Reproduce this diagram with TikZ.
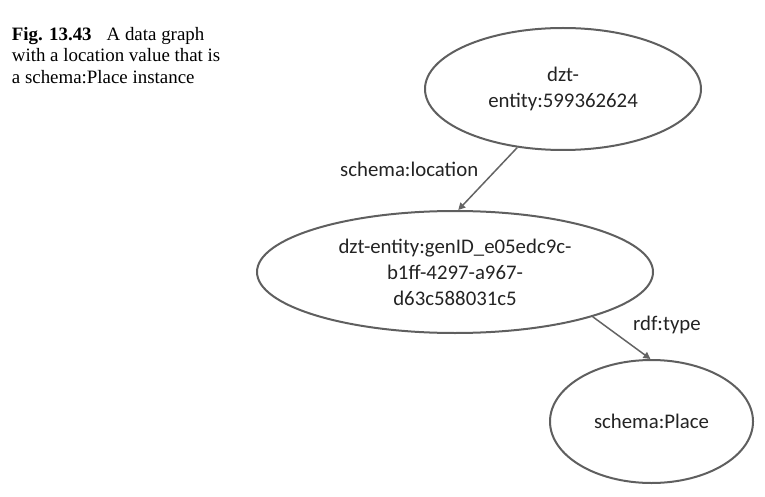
\documentclass[tikz,border=0pt]{standalone}
\usepackage{fontspec}
\setmainfont{Liberation Serif}
\newfontfamily\carlitofont{Carlito}
\usetikzlibrary{shapes.geometric,arrows.meta}
\definecolor{ellgray}{RGB}{95,95,95}
\definecolor{edgegray}{RGB}{100,100,100}
\definecolor{txtgray}{RGB}{35,35,35}
\begin{document}
\begin{tikzpicture}[x=1pt,y=-1pt,
  ent/.style={ellipse,draw=ellgray,line width=2pt,inner sep=0pt,align=center,
    text=txtgray,font=\carlitofont\fontsize{20.8}{26}\selectfont},
  lbl/.style={anchor=base west,inner sep=0pt,text=txtgray,font=\carlitofont\fontsize{20.8}{26}\selectfont},
  rel/.style={draw=edgegray,line width=1.5pt,-{Triangle[length=7pt,width=7pt]}}]
\useasboundingbox (0,0) rectangle (765,497);
\node[anchor=base west,inner sep=0pt,align=left,font=\fontsize{18.9}{21.3}\selectfont]
  (cap) at (11.7,83.3) {\textbf{Fig. 13.43}\hskip 15pt A data graph\\with a location value that is\\a schema:Place instance};
\node[ent,minimum width=276pt,minimum height=122pt] (e1) at (563,89) {dzt-\\entity:599362624};
\node[ent,minimum width=396pt,minimum height=122pt] (e2) at (455,272) {dzt-entity:genID\_e05edc9c-\\b1ff-4297-a967-\\d63c588031c5};
\node[ent,minimum width=203pt,minimum height=123pt] (e3) at (651.5,421.5) {schema:Place};
\draw[rel] (e1.232) -- (e2.87);
\draw[rel] (e2.342) -- (e3.91);
\node[lbl] (l1) at (340,176.7) {schema:location};
\node[lbl] (l2) at (633,330) {rdf:type};
\end{tikzpicture}
\end{document}
